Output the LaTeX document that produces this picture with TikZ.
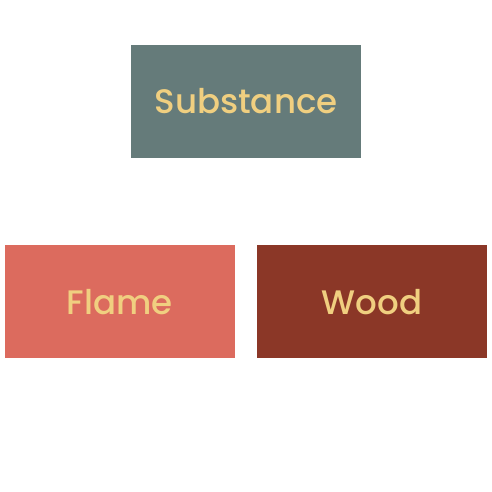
\documentclass[tikz,border=0pt]{standalone}
\usepackage{fontspec}
\setmainfont{Poppins}[UprightFont={* Medium}]
\usepackage{xcolor}
\usepackage{tikz}
\usetikzlibrary{positioning}

\definecolor{slate}{HTML}{657B7A}
\definecolor{flamered}{HTML}{DC6B5E}
\definecolor{woodbrown}{HTML}{8B3727}
\definecolor{gold}{HTML}{F0CF80}

\begin{document}
\begin{tikzpicture}[x=1pt, y=1pt]
  % Styles
  \tikzstyle{block}=[minimum width=230pt, minimum height=113pt, inner sep=0pt, text=gold, font=\fontsize{34}{40}\selectfont]
  \tikzstyle{topbox}=[block, fill=slate]
  \tikzstyle{leftbox}=[block, fill=flamered]
  \tikzstyle{rightbox}=[block, fill=woodbrown]

  \useasboundingbox (0,0) rectangle (492,492);

  % Top row
  \node[topbox] (substance) at (246,390.5) {Substance};

  % Bottom row
  \node[leftbox]  (flame) at (119.5,190) {Flame};
  \node[rightbox] (wood)  at (372,190)   {Wood};
\end{tikzpicture}
\end{document}
